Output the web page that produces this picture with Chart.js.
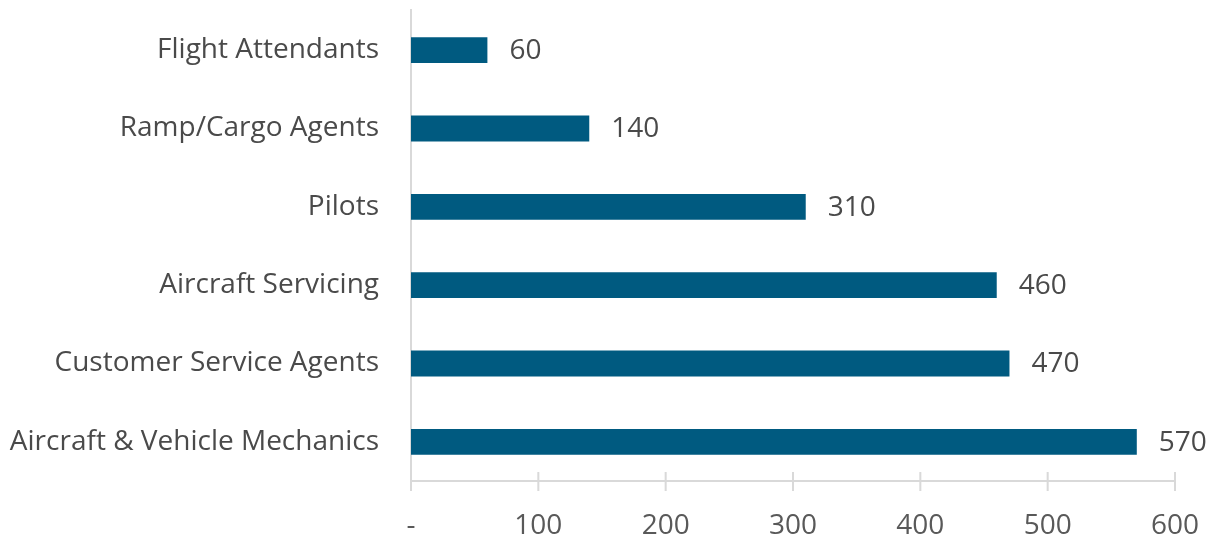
<!DOCTYPE html>
<html>
<head>
<meta charset="utf-8">
<script src="https://cdn.jsdelivr.net/npm/chart.js@4.4.1/dist/chart.umd.min.js"></script>
<style>
  html, body { margin: 0; padding: 0; background: #fff; }
  #wrap { width: 1212px; height: 537px; }
</style>
</head>
<body>
<div id="wrap"><canvas id="chart"></canvas></div>
<script>
// Daten
const kategorien = ['Flight Attendants', 'Ramp/Cargo Agents', 'Pilots', 'Aircraft Servicing', 'Customer Service Agents', 'Aircraft & Vehicle Mechanics'];
const werte = [60, 140, 310, 460, 470, 570];
const xTicks = [0, 100, 200, 300, 400, 500, 600];

const schrift = '"Open Sans", sans-serif';

// Wertebeschriftung rechts neben den Balken
const wertLabels = {
    id: 'wertLabels',
    afterDatasetsDraw: function (chart) {
        const ctx = chart.ctx;
        const meta = chart.getDatasetMeta(0);
        ctx.save();
        ctx.fillStyle = '#4a4a4a';
        ctx.font = '28px ' + schrift;
        ctx.textBaseline = 'middle';
        meta.data.forEach(function (bar, i) {
            ctx.fillText(String(werte[i]), bar.x + 22, bar.y + 1);
        });
        ctx.restore();
    }
};

// Achsenlinien mit Strichen, die die x-Achse kreuzen
const achsen = {
    id: 'achsen',
    beforeDatasetsDraw: function (chart) {
        const ctx = chart.ctx;
        const x = chart.scales.x;
        const y = chart.scales.y;
        ctx.save();
        ctx.strokeStyle = '#d9d9d9';
        ctx.lineWidth = 2;
        ctx.beginPath();
        ctx.moveTo(x.left, y.bottom);
        ctx.lineTo(x.right, y.bottom);
        ctx.moveTo(x.left, y.top - 2);
        ctx.lineTo(x.left, y.bottom + 10);
        xTicks.forEach(function (t) {
            const px = x.getPixelForValue(t);
            ctx.moveTo(px, y.bottom - 9);
            ctx.lineTo(px, y.bottom + 10);
        });
        ctx.stroke();
        ctx.restore();
    }
};

new Chart(document.querySelector('#chart'), {
    type: 'bar',
    data: {
        labels: kategorien,
        datasets: [{
            data: werte,
            backgroundColor: '#005a80',
            borderWidth: 0,
            barPercentage: 0.66,
            categoryPercentage: 0.5
        }]
    },
    options: {
        indexAxis: 'y',
        responsive: true,
        maintainAspectRatio: false,
        animation: false,
        layout: { padding: { top: 11, right: 37, bottom: 0, left: 0 } },
        scales: {
            x: {
                min: 0,
                max: 600,
                afterBuildTicks: function (scale) {
                    scale.ticks = xTicks.map(function (v) { return { value: v }; });
                },
                afterFit: function (scale) {
                    scale.height = 56;
                    scale.paddingLeft = 0;
                    scale.paddingRight = 0;
                },
                ticks: {
                    color: '#595959',
                    font: { family: schrift, size: 28 },
                    padding: 20,
                    maxRotation: 0,
                    callback: function (v) { return v === 0 ? '-' : v; }
                },
                grid: { display: false },
                border: { display: false }
            },
            y: {
                afterFit: function (scale) {
                    scale.width = 411;
                    scale.paddingTop = 0;
                    scale.paddingBottom = 0;
                },
                ticks: {
                    color: '#4a4a4a',
                    font: { family: schrift, size: 28 },
                    padding: 24
                },
                grid: { display: false },
                border: { display: false }
            }
        },
        plugins: {
            legend: { display: false },
            tooltip: { enabled: false }
        }
    },
    plugins: [achsen, wertLabels]
});
</script>
</body>
</html>
